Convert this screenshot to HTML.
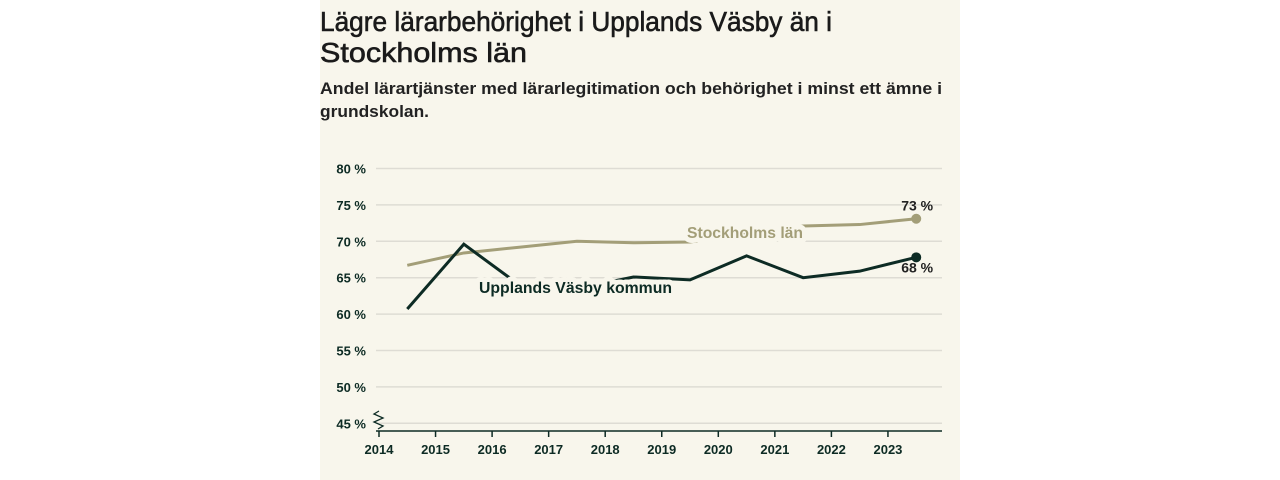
<!DOCTYPE html>
<html><head><meta charset="utf-8"><style>
html,body{margin:0;padding:0;background:#fff;}
svg{display:block;font-family:"Liberation Sans",sans-serif;}
</style></head><body>
<svg width="1280" height="480" viewBox="0 0 1280 480">
<rect x="320" y="0" width="640" height="480" fill="#f8f6ec"/>
<text x="320" y="31" font-size="28" fill="#1a1a1a" stroke="#1a1a1a" stroke-width="0.6" textLength="512" lengthAdjust="spacingAndGlyphs">Lägre lärarbehörighet i Upplands Väsby än i</text>
<text x="320" y="62" font-size="28" fill="#1a1a1a" stroke="#1a1a1a" stroke-width="0.6" textLength="207" lengthAdjust="spacingAndGlyphs">Stockholms län</text>
<text x="320" y="94" font-size="17" font-weight="bold" fill="#222" textLength="622" lengthAdjust="spacingAndGlyphs">Andel lärartjänster med lärarlegitimation och behörighet i minst ett ämne i</text>
<text x="320" y="117" font-size="17" font-weight="bold" fill="#222" textLength="109" lengthAdjust="spacingAndGlyphs">grundskolan.</text>
<g id="plot"></g>
</svg>
<script>
const yTicks=[45,50,55,60,65,70,75,80];
const yTickLabels=["45 %","50 %","55 %","60 %","65 %","70 %","75 %","80 %"];
const xTicks=[2014,2015,2016,2017,2018,2019,2020,2021,2022,2023];
const years=[2014.5,2015.5,2016.5,2017.5,2018.5,2019.5,2020.5,2021.5,2022.5,2023.5];
const stockholm=[66.7,68.4,69.2,70.0,69.8,69.9,71.0,72.1,72.3,73.1];
const vasby=[60.7,69.6,63.9,63.5,65.1,64.7,68.0,65.0,65.9,67.8];
const NS="http://www.w3.org/2000/svg";
const g=document.getElementById('plot');
const x=v=>379+(v-2014)*56.55;
const y=v=>168.5+(80-v)*7.28;
function el(t,a){const e=document.createElementNS(NS,t);for(const k in a)e.setAttribute(k,a[k]);g.appendChild(e);return e;}
yTicks.forEach((t,i)=>{
 const l=el('line',{x1:376,x2:942,y1:y(t),y2:y(t),stroke:'#dedcd4','stroke-width':1.5});
 
 
 const tx=el('text',{x:366,y:y(t)+5,'text-anchor':'end','font-size':13,'font-weight':'bold',fill:'#0d2b24'});
 tx.textContent=yTickLabels[i];
 
 
});
const ax=el('line',{x1:376,x2:942,y1:431,y2:431,stroke:'#0d2b24','stroke-width':1.5});


const br=el('polyline',{points:'379,411 374,414 383,418 374,422 383,426 378,429',fill:'none',stroke:'#0d2b24','stroke-width':1.3});


xTicks.forEach(t=>{
 const k=el('line',{x1:x(t),x2:x(t),y1:431,y2:437,stroke:'#0d2b24','stroke-width':1.5});
 
 
 const tx=el('text',{x:x(t),y:454,'text-anchor':'middle','font-size':13,'font-weight':'bold',fill:'#0d2b24'});
 tx.textContent=t;
 
 
});
function line(vals,col,name){
 const p=el('polyline',{points:vals.map((v,i)=>x(years[i])+','+y(v)).join(' '),fill:'none',stroke:col,'stroke-width':3,'stroke-linejoin':'miter'});
 
 
 const n=vals.length-1;
 const c=el('circle',{cx:x(years[n]),cy:y(vals[n]),r:5,fill:col});
 
 
}
line(stockholm,'#a39e78','stockholm-line');
line(vasby,'#0d2b24','vasby-line');
const halo={stroke:'#f8f6ec','stroke-width':10,'paint-order':'stroke','stroke-linejoin':'round'};
const l1=el('text',Object.assign({x:687,y:238,'font-size':16,'font-weight':'bold',fill:'#a39e78',textLength:116,lengthAdjust:'spacingAndGlyphs'},halo));
l1.textContent='Stockholms län';


const l2=el('text',Object.assign({x:479,y:293,'font-size':16,'font-weight':'bold',fill:'#0d2b24',textLength:193,lengthAdjust:'spacingAndGlyphs'},halo));
l2.textContent='Upplands Väsby kommun';


const n=years.length-1;
const v1=el('text',{x:x(years[n])-15,y:y(stockholm[n])-8,'font-size':14,'font-weight':'bold',fill:'#222'});
v1.textContent=Math.round(stockholm[n])+' %';


const v2=el('text',{x:x(years[n])-15,y:y(vasby[n])+15,'font-size':14,'font-weight':'bold',fill:'#222'});
v2.textContent=Math.round(vasby[n])+' %';


</script>
</body></html>
